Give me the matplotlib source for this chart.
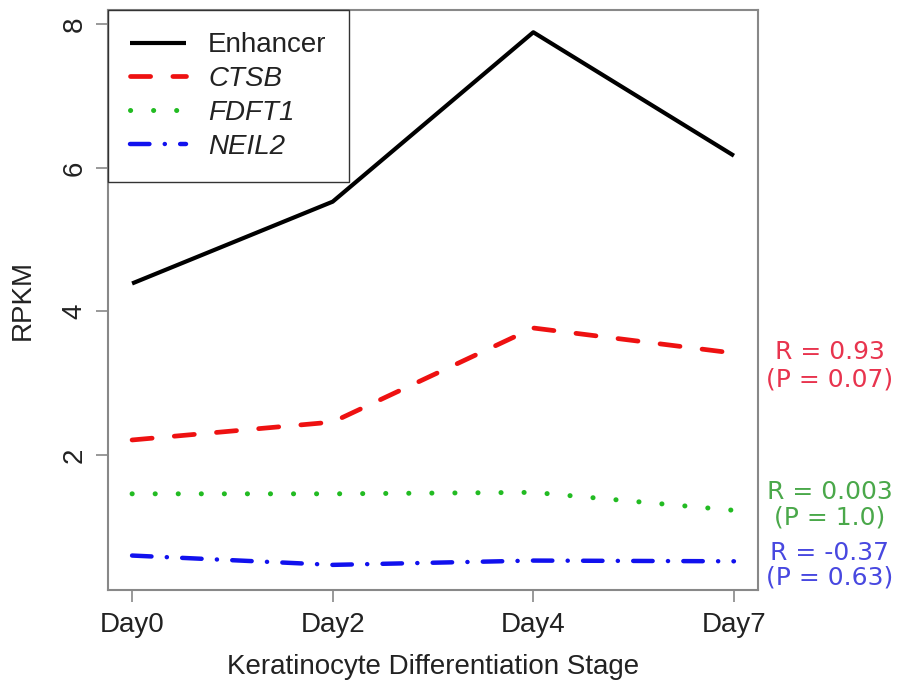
import matplotlib
matplotlib.use("Agg")
import matplotlib.pyplot as plt

stages = ["Day0", "Day2", "Day4", "Day7"]
enhancer = [4.39, 5.53, 7.89, 6.17]
ctsb = [2.21, 2.46, 3.77, 3.42]
fdft1 = [1.46, 1.46, 1.48, 1.23]
neil2 = [0.60, 0.47, 0.53, 0.52]
series_names = ["Enhancer", "CTSB", "FDFT1", "NEIL2"]
yticks = [2, 4, 6, 8]
annot_lines = [("R = 0.93", "(P = 0.07)"), ("R = 0.003", "(P = 1.0)"), ("R = -0.37", "(P = 0.63)")]
annot_colors = ["#e8344e", "#4aa84a", "#4848e0"]

plt.rcParams['lines.scale_dashes'] = False
plt.rcParams['font.family'] = ['Liberation Sans', 'DejaVu Sans']

fig = plt.figure(figsize=(9.04, 6.84), dpi=100)
W, H = 904, 684
ax = fig.add_axes([108 / W, 1 - 590 / H, (758 - 108) / W, (590 - 10) / H])

x = list(range(len(stages)))
ax.plot(x, enhancer, color="black", lw=3.0, solid_capstyle="butt", label=series_names[0])
ax.plot(x, ctsb, color="#ee1111", lw=3.4, linestyle=(0, (14.5, 16)), dash_capstyle="round", label=series_names[1])
ax.plot(x, fdft1, color="#22bb22", lw=3.6, linestyle=(0, (0.1, 16.5)), dash_capstyle="round", label=series_names[2])
ax.plot(x, neil2, color="#1111ee", lw=3.2, linestyle=(0, (14, 11, 0.1, 11)), dash_capstyle="round", label=series_names[3])

ax.set_xlim(-0.12, 3.12)
ax.set_ylim(0.12, 8.2)
ax.set_xticks(x)
ax.set_xticklabels(stages, fontsize=20)
ax.set_yticks(yticks)
ax.set_yticklabels([str(v) for v in yticks], fontsize=20, rotation=90, va="center")
ax.tick_params(direction="out", length=8.6, width=1.2, color="#888888", pad=6)
ax.tick_params(axis="x", pad=7.5)
for s in ax.spines.values():
    s.set_color("#888888")
    s.set_linewidth(1.5)

ax.set_xlabel("Keratinocyte Differentiation Stage", fontsize=20, color="#222222", labelpad=11)
ax.set_ylabel("RPKM", fontsize=20, color="#222222", labelpad=18.5)
for lab in ax.get_xticklabels() + ax.get_yticklabels():
    lab.set_color("#222222")

leg = ax.legend(loc="upper left", borderaxespad=0, fancybox=False, fontsize=20,
                handlelength=2.0, handletextpad=0.8, labelspacing=0.28,
                borderpad=0.8, framealpha=1)
leg.get_frame().set_edgecolor("#333333")
leg.get_frame().set_linewidth(1.0)
for i, t in enumerate(leg.get_texts()):
    t.set_color("#222222")
    if i > 0:
        t.set_fontstyle("italic")

ys = [(352, 380), (492, 518), (553, 578)]
for (l1, l2), c, (y1, y2) in zip(annot_lines, annot_colors, ys):
    fig.text(830 / W, 1 - y1 / H, l1, color=c, fontsize=18, ha="center", va="center", family="DejaVu Sans")
    fig.text(830 / W, 1 - y2 / H, l2, color=c, fontsize=18, ha="center", va="center", family="DejaVu Sans")

fig.savefig("out.png", dpi=100)
